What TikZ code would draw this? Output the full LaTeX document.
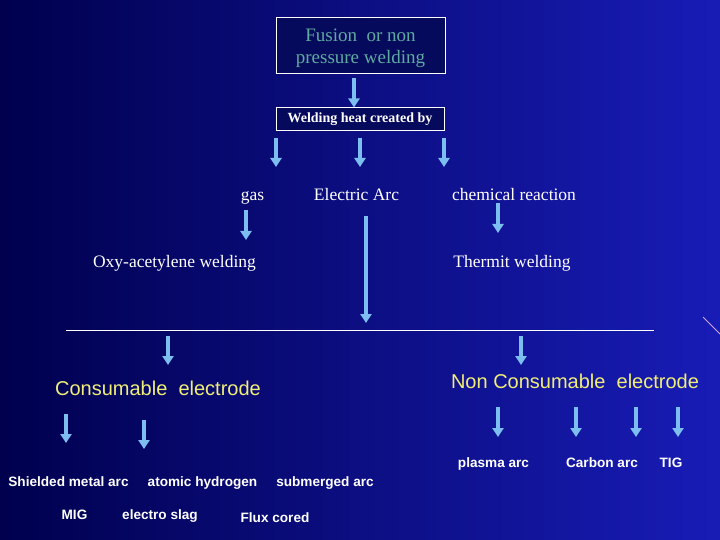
\documentclass[tikz,border=0pt]{standalone}
\usepackage{fontspec}
\setmainfont{Liberation Serif}
\setsansfont{Liberation Sans}
\usetikzlibrary{arrows.meta, positioning}
\definecolor{bgdark}{RGB}{0,0,78}
\definecolor{bgmid}{RGB}{8,10,150}
\definecolor{bglight}{RGB}{24,28,182}
\definecolor{boxfill}{RGB}{6,10,92}
\definecolor{arrowblue}{RGB}{125,190,240}
\definecolor{fusiongreen}{RGB}{95,170,160}
\definecolor{labelyellow}{RGB}{240,238,120}
\definecolor{streak}{RGB}{205,165,235}

\tikzset{
  bluearrow/.style={arrowblue, line width=4.5pt, -{Triangle[width=11pt,length=9pt]}},
  titlebox/.style={draw=white, fill=boxfill, line width=1pt, inner sep=2pt},
  method/.style={text=white, font=\fontsize{17.5}{20}\selectfont, anchor=base},
  kind/.style={text=labelyellow, font=\sffamily\fontsize{20}{24}\selectfont, anchor=base},
  process/.style={text=white, font=\sffamily\bfseries\fontsize{13.6}{16}\selectfont, anchor=base},
}

\begin{document}
\begin{tikzpicture}[x=1pt, y=-1pt]
    % background
    \useasboundingbox (0,0) rectangle (720,540);
    \shade[left color=bgdark, middle color=bgmid, right color=bglight] (0,0) rectangle (720,540);
    \draw[streak, line width=1pt] (703,317) -- (720,334);

    % boxes on top
    \node[titlebox, text=fusiongreen, align=center, minimum width=169pt, minimum height=56pt,
          font=\fontsize{19}{22}\selectfont] (fusion) at (360.5,46) {\rule{0pt}{17pt}Fusion\ \ or non\\pressure welding};
    \node[titlebox, text=white, minimum width=168pt, minimum height=23pt,
          font=\bfseries\fontsize{14}{16}\selectfont] (heat) at (360,119.5) {Welding heat created by};
    \draw[bluearrow] ([xshift=-6.5pt,yshift=-4pt]fusion.south) -- ([xshift=-6pt]heat.north);

    % heat sources
    \node[method] (gas) at (252.5,201) {gas};
    \node[method] (arc) at (356.5,201) {Electric Arc};
    \node[method] (chem) at (514,201) {chemical reaction};
    \node[method] (oxy) at (174.5,267) {Oxy-acetylene welding};
    \node[method] (thermit) at (512,267) {Thermit welding};

    % split line
    \coordinate (splitL) at (66,330);
    \coordinate (splitR) at (654,330);
    \draw[white, line width=1pt] (splitL) -- (splitR);

    % electrode kinds
    \node[kind] (cons) at (158,395) {Consumable\ \ electrode};
    \node[kind] (noncons) at (575,388) {Non Consumable\ \ electrode};

    % processes
    \node[process] (smaw) at (68.5,486) {Shielded metal arc};
    \node[process] (atomic) at (202.5,486) {atomic hydrogen};
    \node[process] (saw) at (325,486) {submerged arc};
    \node[process] (mig) at (74.5,519) {MIG};
    \node[process] (slag) at (160,519) {electro slag};
    \node[process] (flux) at (275,522) {Flux cored};
    \node[process] (plasma) at (493.5,467) {plasma arc};
    \node[process] (carbon) at (602,467) {Carbon arc};
    \node[process] (tig) at (671,467) {TIG};

    % arrows
    \foreach \name/\x/\ya/\yb in {heatgas/276/138/167, heatarc/360/138/167, heatchem/444/138/167,
        gasoxy/246/210/240, chemthermit/498/203/233, arcsplit/366/216/323,
        splitcons/168/336/365, splitnon/521/336/365, conssmaw/66/414/443, consatomic/144/420/449,
        nonplasma/498/407/437, noncarbon/576/407/437, nonmid/636/407/437, nontig/678/407/437}
    {
        \coordinate (\name-s) at (\x,\ya);
        \coordinate (\name-e) at (\x,\yb);
        \draw[bluearrow] (\name-s) -- (\name-e);
    }
\end{tikzpicture}
\end{document}
